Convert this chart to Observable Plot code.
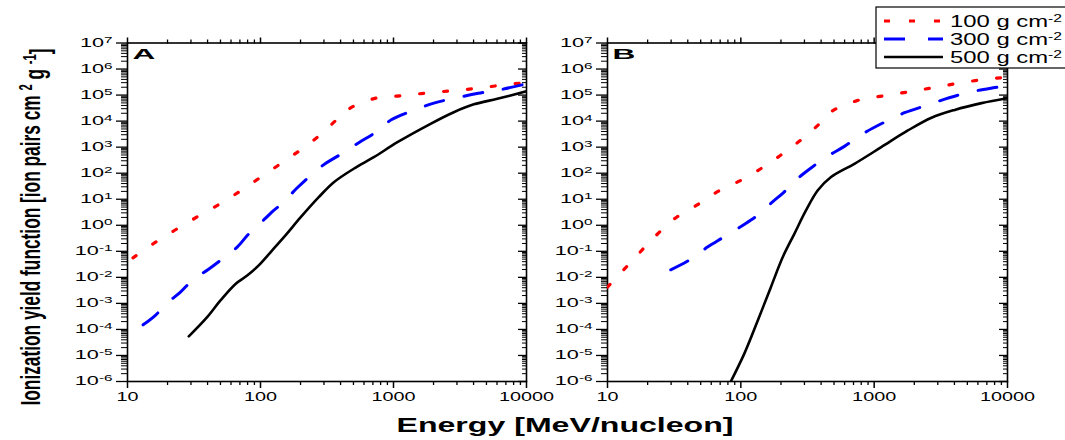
<!DOCTYPE html>
<html><head><meta charset="utf-8">
<script src="https://cdn.jsdelivr.net/npm/d3@7"></script>
<script src="https://cdn.jsdelivr.net/npm/@observablehq/plot@0.6"></script>
<style>
html,body{margin:0;padding:0;background:#fff;}
#wrap{position:relative;width:1065px;height:440px;overflow:hidden;font-family:"Liberation Sans",Arial,sans-serif;background:#fff;}
.panel{position:absolute;top:0;}
.panel svg{background:transparent;max-width:none;}
#overlay{position:absolute;left:0;top:0;}
</style></head><body><div id="wrap"></div>
<script>
// ---- Data (Energy in MeV/nucleon, ionization yield in ion pairs cm^2 g^-1) ----
const depthLabels = ["100", "300", "500"];

// Panel A
const energyA100 = [11, 15.6, 22.5, 33.4, 50.6, 72.8, 103, 147, 207, 281, 364, 475, 736, 1170, 1850, 2920, 4590, 7280, 10000];
const yieldA100  = [0.056, 0.195, 0.63, 2.1, 7.1, 23, 77, 263, 890, 2950, 1.0e4, 3.2e4, 7.6e4, 9.5e4, 1.23e5, 1.5e5, 1.9e5, 2.6e5, 3.0e5];
const energyA300 = [13.1, 16.2, 20.2, 25, 31.2, 40.2, 53.6, 66.8, 81.7, 98.9, 124, 150, 189, 294, 388, 548, 733, 962, 1360, 2010, 2890, 4340, 6310, 10000];
const yieldA300  = [1.5e-4, 3.5e-4, 1.1e-3, 2.7e-3, 8.3e-3, 0.0195, 0.059, 0.145, 0.47, 1.15, 3.5, 7.9, 27.5, 200, 480, 1480, 3700, 1.12e4, 2.4e4, 4.9e4, 7.6e4, 1.17e5, 1.6e5, 2.7e5];
const energyA500 = [28.9, 39.7, 50, 64.9, 79.4, 97, 122, 154, 200, 274, 356, 502, 711, 1070, 1900, 2840, 4020, 6030, 10000];
const yieldA500  = [5.4e-5, 2.95e-4, 1.3e-3, 5.6e-3, 0.0117, 0.029, 0.107, 0.41, 2.0, 12, 45, 148, 410, 1550, 7900, 2.2e4, 4.4e4, 7.2e4, 1.4e5];

// Panel B
const energyB100 = [10, 12.5, 15.6, 19.3, 24.3, 31.9, 46.7, 66.8, 104, 152, 212, 291, 378, 483, 736, 1160, 1840, 2890, 4560, 7230, 10000];
const yieldB100  = [4.2e-3, 0.0145, 0.047, 0.158, 0.52, 1.8, 5.9, 19.5, 59, 190, 620, 2140, 6900, 2.4e4, 6.0e4, 9.3e4, 1.35e5, 2.0e5, 3.0e5, 4.2e5, 4.8e5];
const energyB300 = [29.8, 40.8, 56.2, 72.8, 106, 134, 173, 209, 264, 332, 444, 598, 822, 1130, 1690, 2460, 3650, 5210, 7800, 10000];
const yieldB300  = [0.0195, 0.045, 0.145, 0.33, 1.07, 2.45, 7.9, 18, 59, 151, 437, 1070, 3240, 7900, 2.1e4, 4.0e4, 7.9e4, 1.3e5, 1.9e5, 2.3e5];
const energyB500 = [84.1, 106, 134, 168, 206, 252, 308, 378, 475, 711, 1130, 1790, 2690, 4020, 6380, 10000];
const yieldB500  = [1e-6, 1.15e-5, 2.2e-4, 4.2e-3, 0.059, 0.47, 3.7, 22, 71, 229, 1000, 4370, 1.35e4, 2.7e4, 4.9e4, 7.6e4];

// Ticks
const xTickValues = [10, 100, 1000, 10000];
const yTickExponents = [-6, -5, -4, -3, -2, -1, 0, 1, 2, 3, 4, 5, 6, 7];
const panelLabels = ["A", "B"];
const xTitle = "Energy [MeV/nucleon]";

// ---- Styles ----
const colors = ["#ff0000", "#0000ff", "#000000"];
const dashes = ["4,20", "19,21", "none"];
const widths = [3.2, 3, 2.6];

const yMajor = yTickExponents.map(e => 10 ** e);
const xMinor = [], yMinor = [];
for (let i = 0; i < xTickValues.length - 1; i++) for (let k = 2; k <= 9; k++) xMinor.push(k * xTickValues[i]);
for (let i = 0; i < yMajor.length - 1; i++) for (let k = 2; k <= 9; k++) yMinor.push(k * yMajor[i]);

function toRows(E, Y) { return E.map((e, i) => ({E: e, Y: Y[i]})); }

const panels = [
  {series: [toRows(energyA100, yieldA100), toRows(energyA300, yieldA300), toRows(energyA500, yieldA500)], left: 0, width: 560, mL: 127, mR: 34},
  {series: [toRows(energyB100, yieldB100), toRows(energyB300, yieldB300), toRows(energyB500, yieldB500)], left: 540, width: 525, mL: 67, mR: 58}
];

const wrap = document.getElementById("wrap");

function stretch(sel, k) {
  sel.each(function () {
    const w = this.getComputedTextLength();
    if (w > 0) {
      this.setAttribute("textLength", (w * k).toFixed(1));
      this.setAttribute("lengthAdjust", "spacingAndGlyphs");
    }
  });
}

panels.forEach((p, pi) => {
  const marks = [
    Plot.axisY(yMinor, {anchor: "left", tickSize: 6, tickFormat: () => "", label: null, strokeWidth: 1}),
    Plot.axisY(yMajor, {anchor: "left", tickSize: 11, tickPadding: 4, tickFormat: d => "10^" + Math.round(Math.log10(d)), label: null, strokeWidth: 1.3}),
    Plot.axisY(yMinor, {anchor: "right", tickSize: -5, tickFormat: () => "", label: null}),
    Plot.axisY(yMajor, {anchor: "right", tickSize: -9, tickFormat: () => "", label: null, strokeWidth: 1.3}),
    Plot.axisX(xMinor, {anchor: "bottom", tickSize: 4, tickFormat: () => "", label: null, strokeWidth: 1.3}),
    Plot.axisX(xTickValues, {anchor: "bottom", tickSize: 7, tickPadding: 4, tickFormat: d => String(d), label: null, strokeWidth: 1.5}),
    Plot.axisX(xMinor, {anchor: "top", tickSize: 4, tickFormat: () => "", label: null, strokeWidth: 1.3}),
    Plot.axisX(xTickValues, {anchor: "top", tickSize: 6, tickFormat: () => "", label: null, strokeWidth: 1.5}),
    Plot.frame({stroke: "#000", strokeWidth: 1.6})
  ];
  p.series.forEach((rows, si) => {
    marks.push(Plot.line(rows, {
      x: "E", y: "Y", stroke: colors[si], strokeWidth: widths[si],
      strokeDasharray: dashes[si], curve: "catmull-rom", clip: true
    }));
  });
  marks.push(Plot.text([panelLabels[pi]], {frameAnchor: "top-left", dx: 5, dy: 5, text: d => d, fontWeight: "bold", fontSize: 15, fill: "#000", textAnchor: "start", lineAnchor: "top"}));

  const svg = Plot.plot({
    width: p.width, height: 440,
    marginLeft: p.mL, marginRight: p.mR, marginTop: 42.5, marginBottom: 59,
    x: {type: "log", domain: [10, 10000], axis: null},
    y: {type: "log", domain: [1e-6, 1e7], axis: null},
    style: {fontFamily: "Liberation Sans, Arial, sans-serif", fontSize: "12px", color: "#000", background: "transparent"},
    marks
  });
  const div = document.createElement("div");
  div.className = "panel";
  div.style.left = p.left + "px";
  div.style.width = p.width + "px";
  div.appendChild(svg);
  wrap.appendChild(div);

  const s = d3.select(svg);
  s.selectAll('g[aria-label="y-axis tick label"] text').each(function () {
    const t = this.textContent;
    if (t.indexOf("^") < 0) return;
    const exp = t.split("^")[1];
    const el = d3.select(this);
    el.text("");
    el.append("tspan").text("10");
    el.append("tspan").attr("dy", "-0.5em").attr("font-size", "8.5px").text(exp);
  });
  stretch(s.selectAll('g[aria-label="y-axis tick label"] text'), 1.8);
  stretch(s.selectAll('g[aria-label="x-axis tick label"] text'), 1.65);
  stretch(s.selectAll('g[aria-label="text"] text'), 2.1);
});

// ---- Overlay: axis titles and legend ----
const ov = d3.select(wrap).append("svg").attr("id", "overlay")
  .attr("width", 1065).attr("height", 440)
  .style("font-family", "Liberation Sans, Arial, sans-serif");

// y title (glyphs widened horizontally like the reference)
const yt = ov.append("text")
  .attr("transform", "translate(40,227) scale(1.6,1) rotate(-90)")
  .attr("text-anchor", "middle")
  .attr("font-size", 17).attr("font-weight", "bold")
  .attr("font-family", "Liberation Sans Narrow, Liberation Sans, Arial, sans-serif")
  .attr("textLength", 357).attr("lengthAdjust", "spacingAndGlyphs");
yt.append("tspan").text("Ionization yield function [ion pairs cm ");
yt.append("tspan").attr("dy", "-0.45em").attr("font-size", 11).text("2");
yt.append("tspan").attr("dy", "0.45em").text(" g ");
yt.append("tspan").attr("dy", "-0.45em").attr("font-size", 11).text("-1");
yt.append("tspan").attr("dy", "0.45em").text("]");

// x title
ov.append("text").attr("x", 565).attr("y", 432)
  .attr("text-anchor", "middle").attr("font-size", 19.5).attr("font-weight", "bold")
  .attr("textLength", 337).attr("lengthAdjust", "spacingAndGlyphs")
  .text(xTitle);

// legend
const lg = ov.append("g");
lg.append("rect").attr("x", 876).attr("y", 7).attr("width", 220).attr("height", 61)
  .attr("fill", "#fff").attr("stroke", "#000").attr("stroke-width", 1.2);
depthLabels.forEach((d, i) => {
  const y = 21 + i * 18;
  lg.append("line").attr("x1", 884).attr("x2", 943).attr("y1", y).attr("y2", y)
    .attr("stroke", colors[i]).attr("stroke-width", widths[i])
    .attr("stroke-dasharray", i === 0 ? "6,19" : i === 1 ? "21,23" : null);
  const t = lg.append("text").attr("x", 950).attr("y", y + 6).attr("font-size", 16)
    .attr("textLength", 112).attr("lengthAdjust", "spacingAndGlyphs");
  t.append("tspan").text(d + " g cm");
  t.append("tspan").attr("dy", "-0.5em").attr("font-size", 10.5).text("-2");
});
</script></body></html>
